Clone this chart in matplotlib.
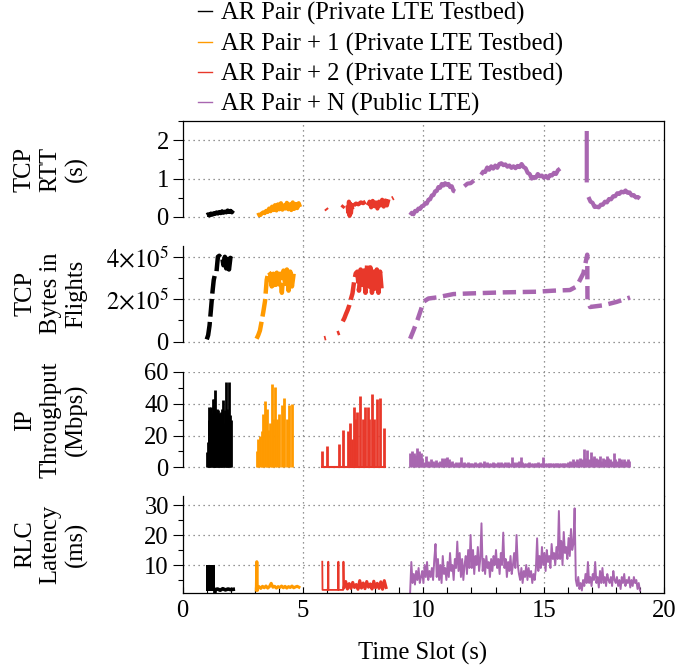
import numpy as np
import matplotlib
matplotlib.use('Agg')
import matplotlib.pyplot as plt
from matplotlib.lines import Line2D
from matplotlib.ticker import FuncFormatter

plt.rcParams['font.family'] = 'serif'
plt.rcParams['font.serif'] = ['Liberation Serif', 'DejaVu Serif']
plt.rcParams['mathtext.fontset'] = 'stix'
plt.rcParams['path.simplify'] = False
FS = 17.7
plt.rcParams['font.size'] = FS

labels = ['AR Pair (Private LTE Testbed)', 'AR Pair + 1 (Private LTE Testbed)',
          'AR Pair + 2 (Private LTE Testbed)', 'AR Pair + N (Public LTE)']
colors = ['black', '#ff9a00', '#e8382a', '#a866b0']
ylabels = ['TCP\nRTT\n(s)', 'TCP\nBytes in\nFlights', 'IP\nThroughput\n(Mbps)', 'RLC\nLatency\n(ms)']

# segments: (t_start, t_end, values)
# TCP RTT (s)
rtt_black = [(1.0, 2.1, [0.05, 0.07, 0.04, 0.09, 0.06, 0.1, 0.08, 0.12, 0.09, 0.13, 0.1, 0.15,
                         0.11, 0.14, 0.12, 0.17, 0.13, 0.16, 0.12, 0.17])]
rtt_orange = [(3.1, 4.88, [0.04, 0.06, 0.05, 0.09, 0.12, 0.1, 0.16, 0.13, 0.22, 0.15, 0.27, 0.18,
                           0.31, 0.17, 0.33, 0.2, 0.36, 0.19, 0.3, 0.22, 0.37, 0.2, 0.33, 0.18,
                           0.38, 0.21, 0.34, 0.23, 0.36, 0.26])]
rtt_red = [(5.95, 6.0, [0.22, 0.18]),
           (6.62, 6.7, [0.24, 0.3]),
           (6.85, 7.05, [0.3, 0.12, 0.4, 0.03, 0.35, 0.1, 0.3, 0.2]),
           (7.1, 7.6, [0.3, 0.35, 0.33, 0.38, 0.36, 0.4]),
           (7.7, 8.55, [0.3, 0.4, 0.25, 0.42, 0.28, 0.38, 0.22, 0.4, 0.3, 0.45, 0.27, 0.43, 0.3, 0.46]),
           (8.7, 8.76, [0.48, 0.5])]
rtt_purple = [(9.45, 11.32, [0.05, 0.11, 0.07, 0.16, 0.15, 0.22, 0.21, 0.28, 0.29, 0.36, 0.35, 0.45,
                             0.46, 0.56, 0.57, 0.67, 0.68, 0.78, 0.76, 0.86, 0.82, 0.88, 0.84, 0.86,
                             0.78, 0.8, 0.68, 0.66]),
              (11.7, 12.1, [0.8, 0.87, 0.88, 0.95]),
              (12.4, 15.68, [1.1, 1.18, 1.17, 1.29, 1.23, 1.32, 1.26, 1.34, 1.28, 1.38, 1.4, 1.35, 1.37,
                             1.31, 1.34, 1.28, 1.32, 1.27, 1.33, 1.3, 1.38, 1.3, 1.27, 1.15, 1.12, 1.0,
                             1.04, 1.02, 1.12, 1.06, 1.08, 1.02, 1.07, 1.01, 1.09, 1.08, 1.15, 1.12, 1.22, 1.26]),
              (16.79, 16.79, [0.9, 2.24]),
              (16.86, 19.0, [0.52, 0.4, 0.37, 0.26, 0.27, 0.25, 0.32, 0.32, 0.4, 0.38, 0.47, 0.46, 0.54,
                             0.54, 0.62, 0.6, 0.66, 0.64, 0.69, 0.63, 0.64, 0.56, 0.57, 0.51, 0.52, 0.48])]

# TCP bytes in flight (x1e5)
bif_black = [(1.0, 2.04, [0.1, 0.3, 0.76, 1.5, 2.27, 2.9, 3.2, 3.3, 4.0, 4.05, 3.95, 4.0, 3.6, 4.0,
                          3.45, 3.9, 3.4, 3.95, 3.9])]
bif_orange = [(3.07, 4.61, [0.13, 0.3, 0.52, 0.95, 1.4, 1.9, 2.9, 3.3, 3.2, 2.6, 3.2, 2.5, 3.25, 2.7,
                            3.2, 2.3, 3.35, 2.6, 3.4, 2.4, 3.3, 2.6, 3.2])]
bif_red = [(5.88, 5.95, [0.15, 0.17]),
           (6.42, 6.52, [0.38, 0.42]),
           (6.65, 8.27, [0.95, 1.1, 1.3, 1.48, 1.7, 2.0, 2.27, 2.83, 3.22, 3.3, 2.4, 3.4, 2.5, 3.35,
                         2.3, 3.6, 2.6, 3.5, 2.3, 3.3, 2.5, 3.4, 2.3, 3.3, 2.4])]
bif_purple_t = [9.45, 9.6, 9.75, 9.9, 10.0, 10.21, 10.55, 11.25, 11.94, 13.32, 14.71, 15.4, 16.09,
                16.37, 16.65, 16.81, 16.82, 16.93, 17.48, 18.03, 18.59]
bif_purple_v = [0.13, 0.55, 1.0, 1.5, 1.87, 2.03, 2.08, 2.24, 2.27, 2.32, 2.35, 2.4, 2.43,
                2.6, 3.22, 4.1, 1.95, 1.63, 1.71, 1.87, 2.08]

# IP throughput (Mbps)
tp_black_t = [1.0, 1.04, 1.08, 1.11, 1.15, 1.18, 1.22, 1.25, 1.28, 1.3, 1.33, 1.36, 1.39, 1.41, 1.45,
              1.48, 1.52, 1.55, 1.58, 1.61, 1.65, 1.69, 1.72, 1.75, 1.79, 1.83, 1.86, 1.9, 1.92, 1.97, 2.01]
tp_black_v = [9.8, 16, 30, 38, 36, 38, 34, 43, 40, 43, 35, 48.5, 32, 37, 34, 36, 30, 34, 28, 35, 37,
              42.6, 28, 36, 54, 35, 37, 30, 54, 33, 30]
tp_orange_t = [3.07, 3.14, 3.21, 3.28, 3.35, 3.42, 3.49, 3.56, 3.63, 3.7, 3.77, 3.84, 3.91, 4.02,
               4.11, 4.22, 4.32, 4.42, 4.53]
tp_orange_v = [10, 18, 19.6, 22.8, 33.8, 41.6, 37, 23.4, 27.6, 52.7, 30.7, 50.6, 30.7, 33.8, 39,
               43.7, 30.7, 39, 40]
tp_red_t = [5.8, 6.01, 6.5, 6.68, 6.88, 6.95, 7.02, 7.12, 7.17, 7.23, 7.37, 7.48, 7.58, 7.69, 7.76,
            7.85, 7.96, 8.06, 8.2, 8.37]
tp_red_v = [10, 13.6, 14.6, 23.4, 22.8, 27.6, 18, 38, 30.7, 34.9, 45, 30.7, 38, 38, 30.7, 46, 30.7,
            43.3, 43.9, 25]
tp_purple = (9.45, 18.56, [9, 10, 9, 8, 12, 10, 9, 6,
                           3.5, 7, 4, 3.5, 5, 4, 3.5, 4.6,
                           3.5, 4, 6, 5, 6, 6.5, 5, 3.5, 4, 3, 3.5, 3,
                           3.5, 6.3, 3, 3.5, 2.8, 3.5, 3, 2.8,
                           2.8, 3.5, 2.8, 3, 3.5, 2.8, 4, 2.8, 3.5, 3, 2.8, 3.5, 2.8, 3, 3.5, 2.8, 3.5, 2.8, 3.5, 2.8,
                           3.5, 2.8, 6.7, 3.5, 3, 3.5, 4, 6.7, 3.5, 2.8, 3, 2.8, 3.5, 2.8, 2.8, 3, 2.8, 3.5,
                           2.8, 2.8, 6.3, 2.8, 3, 2.8, 2.8, 2.8, 3, 2.8, 2.8, 2.8, 3, 2.8, 2.8, 2.8, 3.5, 4, 3.5, 5,
                           4, 5, 4, 6, 5, 11.5, 6, 10.9, 5, 9.8, 6, 7,
                           6, 5, 7, 4, 6, 5, 7, 6, 5, 4, 9.2, 5, 4, 6, 5, 4, 5, 4, 5, 4])

# RLC latency (ms)
rlc_black_block = (0.97, 1.34, 1.2, 10)   # t_start, t_end, low, high (rapid oscillation)
rlc_black = [(1.34, 2.1, [1.8, 2.0, 1.6, 2.1, 1.7, 2.0, 1.8, 1.9])]
rlc_orange = [(3.06, 3.1, [1.7, 11.1, 1.7]),
              (3.1, 4.83, [2.0, 2.8, 2.2, 2.9, 2.4, 3.0, 2.3, 2.8, 3.9, 2.6, 2.9, 2.3, 2.8, 2.5, 3.0,
                           2.4, 2.9, 2.3, 2.8, 2.5, 3.0, 2.4, 2.7, 2.9, 2.6])]
rlc_red_spike_t = [5.8, 5.81, 6.04, 6.05, 6.06, 6.46, 6.47, 6.48, 6.67, 6.68, 6.7]
rlc_red_spike_v = [11.1, 1.7, 1.7, 11.1, 1.7, 1.7, 11.1, 1.7, 1.7, 11.1, 2.5]
rlc_red = [(6.7, 8.45, [2.5, 4.5, 2.0, 3.8, 2.2, 4.2, 2.5, 3.5, 1.9, 4.8, 2.3, 4.0, 2.1, 4.5, 2.6,
                        3.7, 2.0, 4.6, 2.4, 3.9, 2.2, 4.4, 1.9, 4.8, 2.5])]
rlc_purple = (9.45, 19.0, [0.8, 11, 4, 7, 3.5, 8, 5, 9, 4, 6, 8,
                           4, 10, 6, 11, 5, 8, 6, 9, 5, 12, 17,
                           6, 12, 5, 10, 4, 13, 7, 9, 5, 11, 6, 14, 8, 10, 5, 12, 9,
                           17.8, 8, 14, 6, 12, 5, 10, 13, 7, 15, 9,
                           20, 9, 15, 7, 13, 10, 16, 8, 12, 23.9, 8,
                           12, 7, 13, 9, 11, 6, 12, 8, 13, 10, 15, 9, 12, 7, 14, 10,
                           20.8, 9, 12, 6, 11, 8, 13, 7, 10, 14, 9, 20, 10,
                           7, 5, 9, 4, 8, 6, 10, 5, 9, 6, 8, 4, 7, 5, 9,
                           18.9, 8, 13, 9, 16, 10, 14, 8, 15, 11, 13, 9, 17, 12, 14, 10, 16, 12,
                           28, 12, 18, 10, 21, 14, 16, 12, 19, 13, 22, 15, 17, 28.9,
                           5, 3, 6, 2, 4, 1.5, 5, 3, 7, 4, 11, 4, 6, 3, 7, 5, 11, 4, 6, 2.5,
                           8, 4, 9, 4, 6, 3, 7, 5, 4, 6, 3, 8, 5, 4, 6, 3, 5, 2, 6, 4,
                           7, 3, 5, 4, 6, 2.5, 5, 3, 6, 4, 5, 2, 4, 1.5])


def join(segs):
    ts, vs = [], []
    for t0, t1, vals in segs:
        ts += list(np.linspace(t0, t1, len(vals))) + [np.nan]
        vs += list(vals) + [np.nan]
    return np.array(ts), np.array(vs)


W, H = 678, 669
fig = plt.figure(figsize=(W / 100, H / 100), dpi=100)
left_px, right_px = 182.7, 664
# spine top px, spine bottom px, axes bottom px, ymin, ymax
panels = [(121, 217, 246, 0, 2.5),
          (246, 341.5, 372, 0, 4.51e5),
          (372, 467.3, 496, 0, 60),
          (496, 593, 593, 0.67, 33)]
axes = []
for i, (top, sb, ab, ymin, ymax) in enumerate(panels):
    ax = fig.add_axes([left_px / W, 1 - ab / H, (right_px - left_px) / W, (ab - top) / H])
    scale = (ymax - ymin) / (sb - top)
    ax.set_ylim(ymin - (ab - sb) * scale, ymax)
    ax.set_xlim(0, 20)
    ax.spines['left'].set_bounds(ymin, ymax)
    ax.spines['top'].set_visible(i == 0)
    ax.spines['bottom'].set_visible(i == 3)
    for s in ax.spines.values():
        s.set_linewidth(0.9)
    ax.tick_params(axis='y', which='major', direction='out', length=7, width=0.8, labelsize=FS, pad=3)
    ax.tick_params(axis='y', which='minor', direction='out', length=3.5, width=0.8)
    ax.tick_params(axis='y', right=False)
    for xv in [5, 10, 15]:
        ax.axvline(xv, color='0.45', ls=(0, (1, 3)), lw=0.9, zorder=0)
    if i < 3:
        ax.tick_params(axis='x', which='both', bottom=False, labelbottom=False)
    fig.text(51 / W, 1 - (top + sb) / 2 / H, ylabels[i], rotation=90, ha='center', va='center',
             multialignment='center', fontsize=FS, linespacing=1.2)
    axes.append(ax)

ax1, ax2, ax3, ax4 = axes

# RTT
for segs, c in zip([rtt_black, rtt_orange, rtt_red, rtt_purple], colors):
    t, v = join(segs)
    ax1.plot(t, v, color=c, lw=3, solid_capstyle='butt')
ax1.set_yticks([0, 1, 2])
ax1.set_yticks([0.5, 1.5, 2.5], minor=True)

# Bytes in flight
for segs, c in zip([bif_black, bif_orange, bif_red], colors[:3]):
    t, v = join(segs)
    ax2.plot(t, v * 1e5, color=c, lw=3.2, ls=(0, (4, 1.2)))
ax2.plot(bif_purple_t, np.array(bif_purple_v) * 1e5, color=colors[3], lw=3.2, ls=(0, (3, 1.5)))
ax2.set_yticks([0, 2e5, 4e5])
ax2.set_yticks([1e5, 3e5], minor=True)
ax2.yaxis.set_major_formatter(FuncFormatter(
    lambda y, p: '0' if y == 0 else r'$%d{\times}10^{5}$' % round(y / 1e5)))

# Throughput
ax3.vlines(tp_black_t, 0, tp_black_v, color=colors[0], lw=2)
ax3.vlines(tp_orange_t, 0, tp_orange_v, color=colors[1], lw=2)
ax3.plot([tp_red_t[0], tp_red_t[-1] + 0.03], [0, 0], color=colors[2], lw=1.5)
ax3.vlines(tp_red_t, 0, tp_red_v, color=colors[2], lw=2)
tp_t = np.linspace(tp_purple[0], tp_purple[1], len(tp_purple[2]))
ax3.vlines(tp_t, 0, tp_purple[2], color=colors[3], lw=2)
ax3.set_yticks([0, 20, 40, 60])
ax3.set_yticks([10, 30, 50], minor=True)

# RLC latency
b0, b1, blo, bhi = rlc_black_block
ax4.fill_between([b0, b1], blo, bhi, color=colors[0], lw=0)
t, v = join(rlc_black)
ax4.plot(np.r_[b1, t], np.r_[blo, v], color=colors[0], lw=2.6)
t, v = join(rlc_orange)
ax4.plot(t, v, color=colors[1], lw=2.2)
ax4.plot(rlc_red_spike_t, rlc_red_spike_v, color=colors[2], lw=1.3)
t, v = join(rlc_red)
ax4.plot(t, v, color=colors[2], lw=2.2)
rl_t = np.linspace(rlc_purple[0], rlc_purple[1], len(rlc_purple[2]))
ax4.plot(rl_t, rlc_purple[2], color=colors[3], lw=1.4)
ax4.set_yticks([10, 20, 30])
ax4.set_yticks([5, 15, 25], minor=True)
ax4.set_xticks([0, 5, 10, 15, 20])
ax4.set_xticks(range(0, 21), minor=True)
ax4.tick_params(axis='x', which='both', direction='in', length=4, width=0.8, labelsize=FS, pad=5)

for ax in axes:
    ax.grid(axis='y', which='major', color='0.45', ls=(0, (1, 3)), lw=0.9)
    ax.set_axisbelow(True)

fig.text(423 / W, 1 - 653 / H, 'Time Slot (s)', ha='center', va='center', fontsize=FS)

handles = [Line2D([], [], color=c, lw=1) for c in colors]
fig.legend(handles, labels, loc='upper left', bbox_to_anchor=(198 / W, 1 - 2 / H), frameon=False,
           handlelength=0.55, handletextpad=0.4, labelspacing=0.3, borderaxespad=0, borderpad=0,
           fontsize=FS)

fig.savefig('out.png', dpi=100)
